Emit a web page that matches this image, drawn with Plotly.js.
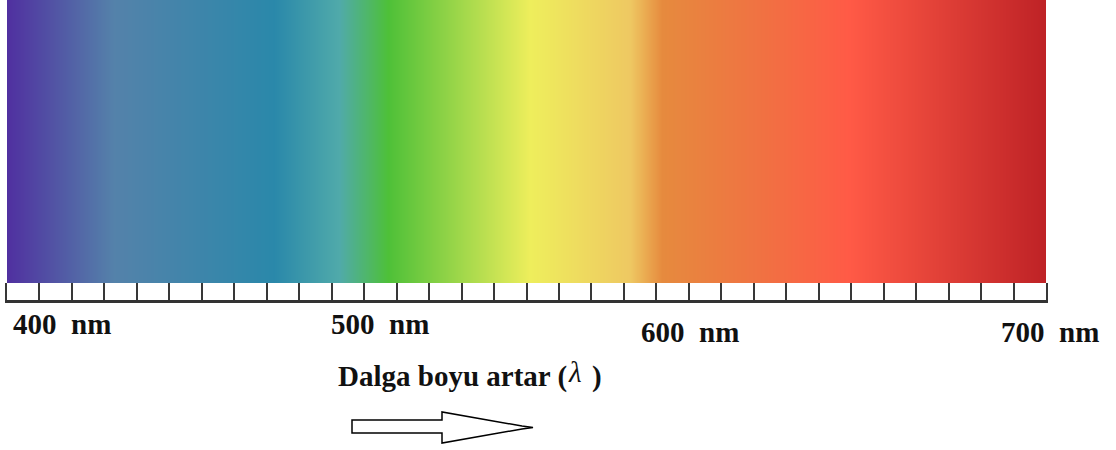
<!DOCTYPE html>
<html>
<head>
<meta charset="utf-8">
<script src="https://cdn.plot.ly/plotly-3.0.1.min.js"></script>
<style>
  html, body { margin: 0; padding: 0; background: #ffffff; }
  #chart { width: 1116px; height: 450px; }
</style>
</head>
<body>
<div id="chart"></div>
<script>
// ---- data ----
const stopWavelengths = [400, 431, 477, 496, 510, 551, 580, 589, 617, 643, 700];
const stopColors = ['#5030A0', '#5482AA', '#2A88AA', '#50AAAA', '#4EC038', '#EEEE5C',
                    '#EEC862', '#E68A3E', '#F07242', '#FF5A46', '#BE2226'];
const rangeMin = 400;
const rangeMax = 700;
const rulerDivisions = 32;
const tickLabels = ['400\u00a0 nm', '500\u00a0 nm', '600\u00a0 nm', '700\u00a0 nm'];
const captionText = 'Dalga boyu artar (';
const lambdaText = 'λ';
const closeText = ')';

// ---- build ----
const colorscale = stopWavelengths.map((w, i) => [(w - rangeMin) / (rangeMax - rangeMin), stopColors[i]]);

const spectrum = {
  type: 'heatmap',
  x: stopWavelengths,
  y: [0, 1],
  z: [stopWavelengths, stopWavelengths],
  zmin: rangeMin, zmax: rangeMax,
  colorscale: colorscale,
  zsmooth: 'best',
  showscale: false,
  hoverinfo: 'skip',
  xaxis: 'x', yaxis: 'y'
};
const rulerTrace = {
  type: 'scatter', mode: 'markers', x: [], y: [],
  xaxis: 'x2', yaxis: 'y2', hoverinfo: 'skip', showlegend: false
};

// layout helpers (pixel -> paper)
const L = 7, PW = 1039, PH = 300;
const PX = px => (px - L) / PW;
const PY = py => (PH - py) / PH;
const rulerTop = 283;

const labelFont = { family: 'Liberation Serif, Times New Roman, serif', size: 29, color: '#111' };
const labelPos = [[11, 324.5], [329, 324.5], [639, 332], [999, 332]];

const annotations = tickLabels.map((t, i) => ({
  text: '<b>' + t + '</b>', xref: 'paper', yref: 'paper',
  x: PX(labelPos[i][0]), y: PY(labelPos[i][1]),
  xanchor: 'left', yanchor: 'middle', showarrow: false, font: labelFont
}));
annotations.push({
  text: '<b>' + captionText + '</b>', xref: 'paper', yref: 'paper',
  x: PX(336), y: PY(376.5), xanchor: 'left', yanchor: 'middle', showarrow: false, font: labelFont
});
annotations.push({
  text: '<i>' + lambdaText + '</i>', xref: 'paper', yref: 'paper',
  x: PX(566), y: PY(372), xanchor: 'left', yanchor: 'middle', showarrow: false, font: labelFont
});
annotations.push({
  text: '<b>' + closeText + '</b>', xref: 'paper', yref: 'paper',
  x: PX(590), y: PY(376.5), xanchor: 'left', yanchor: 'middle', showarrow: false, font: labelFont
});

const arrowPts = [[352, 420], [442, 420], [442, 412], [522, 426], [533, 427.5],
                  [522, 429], [442, 443], [442, 433], [352, 433]];
const arrowPath = 'M ' + arrowPts.map(p => PX(p[0]) + ',' + PY(p[1])).join(' L ') + ' Z';

const layout = {
  width: 1116, height: 450,
  margin: { l: L, r: 1116 - L - PW, t: 0, b: 450 - PH },
  paper_bgcolor: '#ffffff', plot_bgcolor: '#ffffff',
  showlegend: false,
  xaxis: { domain: [0, 1], range: [rangeMin, rangeMax], anchor: 'y', visible: false, fixedrange: true },
  yaxis: { domain: [PY(rulerTop), 1], range: [0, 1], anchor: 'x', visible: false, fixedrange: true },
  xaxis2: {
    domain: [0, 1], range: [rangeMin, rangeMax], anchor: 'y2',
    tick0: rangeMin, dtick: (rangeMax - rangeMin) / rulerDivisions,
    showgrid: true, gridcolor: '#383838', gridwidth: 2,
    showline: true, linecolor: '#333333', linewidth: 2.5,
    ticks: '', showticklabels: false, zeroline: false, fixedrange: true
  },
  yaxis2: {
    domain: [0, PY(rulerTop)], range: [0, 1], anchor: 'x2',
    showgrid: false, showline: true, mirror: true, linecolor: '#383838', linewidth: 2,
    ticks: '', showticklabels: false, zeroline: false, fixedrange: true
  },
  annotations: annotations,
  shapes: [{
    type: 'path', xref: 'paper', yref: 'paper', path: arrowPath,
    line: { color: '#000000', width: 1.5 }, fillcolor: '#ffffff', layer: 'above'
  }]
};

Plotly.newPlot('chart', [spectrum, rulerTrace], layout, { displayModeBar: false, staticPlot: true });
</script>
</body>
</html>
